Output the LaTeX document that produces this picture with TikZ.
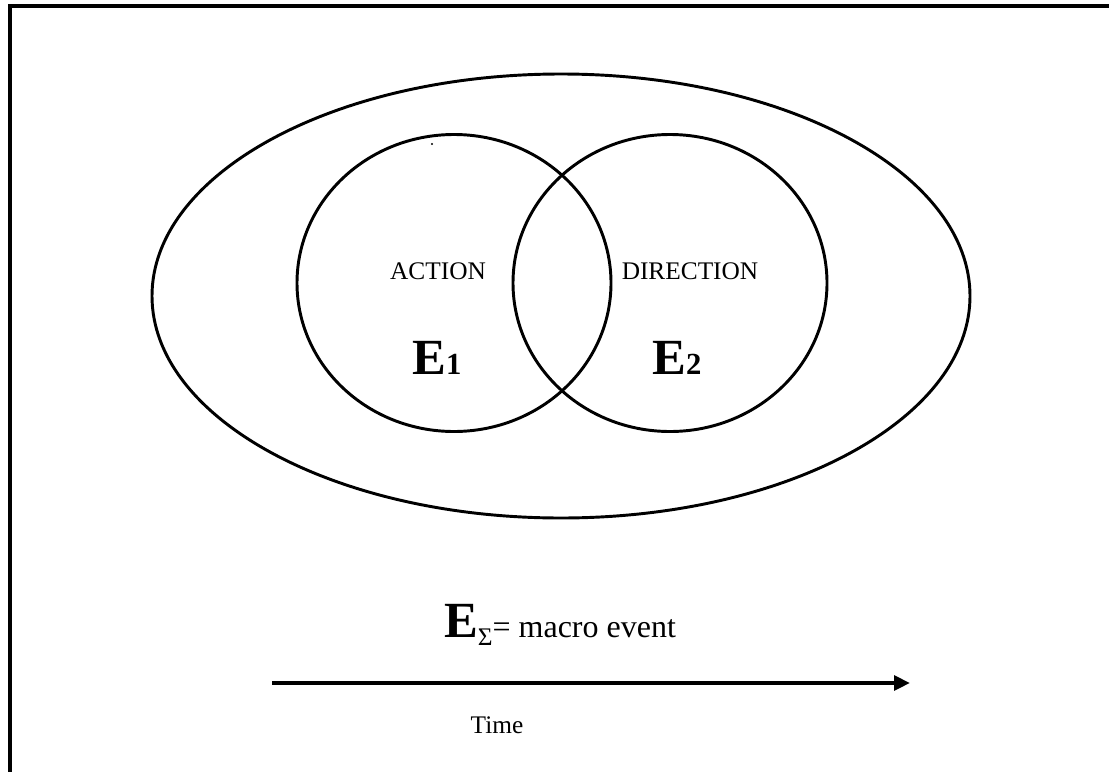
\documentclass[tikz,border=0pt]{standalone}
\usepackage{fontspec}
\setmainfont{Liberation Serif}
\usetikzlibrary{
  shapes.geometric,
  arrows.meta,
  positioning
}
\tikzset{
venn/.style={
  ellipse,
  draw,
  line width=2.2pt,
  inner sep=0pt
},
eventlabel/.style={
  font=\fontsize{19}{21}\selectfont,
  anchor=base,
  inner sep=0pt
},
eventname/.style={
  font=\fontsize{38}{40}\selectfont\bfseries,
  anchor=base,
  inner sep=0pt
},
timearrow/.style={
  -{Triangle[length=12pt,width=11pt]},
  line width=3pt
}
}

\begin{document}
\begin{tikzpicture}[x=0.75pt, y=-0.75pt]
\useasboundingbox (0,0) rectangle (1109,771);

% ============================================================================
% Frame
% ============================================================================
\draw[line width=3pt] (10,775) -- (10,6) -- (1112,6);

% ============================================================================
% Macro event and sub-events
% ============================================================================
\node[venn, minimum width=613.5pt, minimum height=333pt] (macro) at (561,296) {};
\node[venn, minimum width=235.5pt, minimum height=222.75pt] (action) at (454,283) {};
\node[venn, minimum width=235.5pt, minimum height=222.75pt] (direction) at (670,283) {};

\fill (432,144) circle (1.1);

\node[eventlabel] (actionlabel) at (438,279) {ACTION};
\node[eventlabel] (directionlabel) at (690,279) {DIRECTION};

\node[eventname] (e1) at (437,374) {E{\fontsize{23}{25}\selectfont 1}};
\node[eventname] (e2) at (677,374) {E{\fontsize{23}{25}\selectfont 2}};

% ============================================================================
% Legend and time axis
% ============================================================================
\node[eventlabel, font=\fontsize{24}{26}\selectfont] (sigma) at (560,637)
  {{\fontsize{38}{40}\selectfont\bfseries E}\raisebox{-6pt}{\fontsize{19}{20}\selectfont Σ}= macro event};

\coordinate (tstart) at (272,683);
\coordinate (tend) at (910,683);
\draw[timearrow] (tstart) -- (tend);

\node[eventlabel] (time) at (497,733) {Time};

\end{tikzpicture}
\end{document}
